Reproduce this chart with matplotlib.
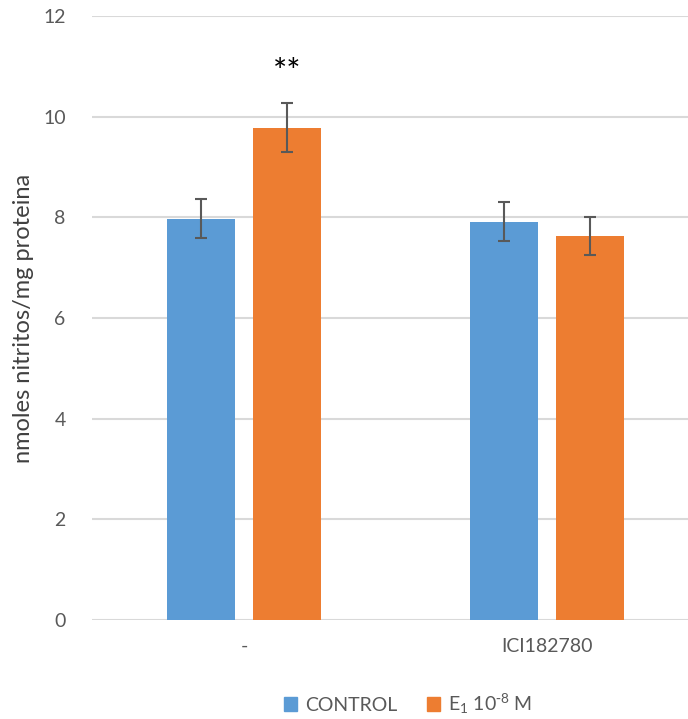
import numpy as np
import matplotlib
matplotlib.use('Agg')
import matplotlib.pyplot as plt
from matplotlib.patches import Patch

plt.rcParams['font.family'] = ['Lato', 'DejaVu Sans']
plt.rcParams['mathtext.default'] = 'regular'

# Data
categories = ['-', 'ICI182780']
control = [7.97, 7.91]
control_err = [0.39, 0.39]
e1 = [9.78, 7.63]
e1_err = [0.49, 0.38]
series_labels = ['CONTROL', r'E$_1$ 10$^{\text{-}8}$ M']
yticks = [0, 2, 4, 6, 8, 10, 12]

blue = '#5B9BD5'
orange = '#ED7D31'
grey = '#595959'

fig = plt.figure(figsize=(6.88, 7.19), dpi=100)
ax = fig.add_axes([92/688, 99/719, 596/688, 604/719])

x = np.arange(len(categories))
w = 0.224
off = (w + 0.06) / 2
ekw = dict(ecolor=grey, elinewidth=1.5, capsize=4.5, capthick=1.5)
ax.bar(x - off, control, w, color=blue, yerr=control_err, error_kw=ekw, zorder=3)
ax.bar(x + off, e1, w, color=orange, yerr=e1_err, error_kw=ekw, zorder=3)

ax.text(x[0] + off, 10.86, '**', ha='center', va='center', fontsize=24, color='black')

ax.set_ylim(0, 12)
ax.set_xlim(-0.502, 1.465)
ax.set_yticks(yticks)
ax.set_xticks(x)
ax.set_xticklabels(categories)
ax.tick_params(axis='both', length=0, labelsize=14, colors=grey)
ax.tick_params(axis='y', pad=19)
ax.tick_params(axis='x', pad=13)
ax.grid(axis='y', color='#d9d9d9', linewidth=1.5, zorder=0)
for s in ax.spines.values():
    s.set_visible(False)
ax.set_ylabel('nmoles nitritos/mg proteina', fontsize=17, color='#404040')
ax.yaxis.set_label_coords(-0.097, 0.5)

handles = [Patch(color=blue), Patch(color=orange)]
fig.legend(handles, series_labels, loc='center', bbox_to_anchor=(408/688, 15/719),
           ncol=2, frameon=False, fontsize=14, labelcolor=grey,
           handlelength=0.7, handleheight=0.7, handletextpad=0.4, columnspacing=1.5)

fig.savefig('out.png', dpi=100)
